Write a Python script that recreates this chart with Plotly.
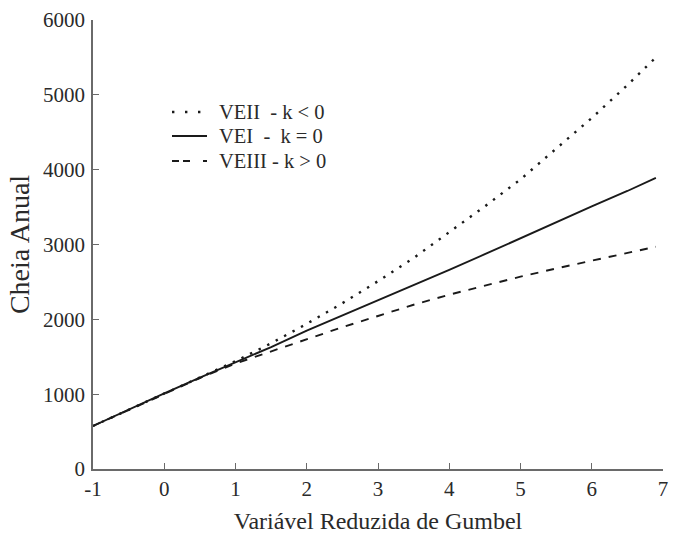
import plotly.graph_objects as go

# Gumbel reduced variate (x) and annual flood values
x_vals = [-1, -0.5, 0, 0.5, 1, 1.5, 2, 2.5, 3, 3.5, 4, 4.5, 5, 5.5, 6, 6.5, 6.9]
veii = [575, 790, 1005, 1220, 1440, 1680, 1940, 2215, 2510, 2820, 3160, 3510, 3870, 4280, 4690, 5130, 5500]
vei = [575, 795, 1010, 1220, 1420, 1630, 1850, 2050, 2250, 2450, 2660, 2870, 3085, 3300, 3510, 3715, 3890]
veiii = [575, 790, 1005, 1215, 1410, 1575, 1740, 1895, 2045, 2195, 2330, 2455, 2570, 2680, 2780, 2880, 2970]

names = ["VEII\u00a0\u00a0- k &lt; 0", "VEI\u00a0\u00a0-\u00a0\u00a0k = 0", "VEIII - k &gt; 0"]
x_ticks = [-1, 0, 1, 2, 3, 4, 5, 6, 7]
y_ticks = [0, 1000, 2000, 3000, 4000, 5000, 6000]

FONT = "Liberation Serif, Times New Roman, serif"
TXT = "#2a2a2a"
AX = "#6a6a6a"
LINE = "#1a1a1a"

W, H = 682, 535
ML, MR, MT, MB = 93, 19, 20, 66
PW, PH = W - ML - MR, H - MT - MB


def px_x(p):
    return (p - ML) / PW


def px_y(p):
    return (H - MB - p) / PH


styles = [
    dict(color=LINE, width=2.4, dash="2.4px,7.2px"),
    dict(color=LINE, width=1.9),
    dict(color=LINE, width=1.9, dash="8px,8px"),
]
sample_styles = [
    dict(color=LINE, width=2.4, dash="2.4px,10.6px"),
    dict(color=LINE, width=1.9),
    dict(color=LINE, width=1.9, dash="7px,4px,7px,13px"),
]

fig = go.Figure()
for yv, nm, st in zip([veii, vei, veiii], names, styles):
    fig.add_trace(go.Scatter(x=x_vals, y=yv, mode="lines", name=nm, line=st, showlegend=False))

# manual legend (samples + labels)
row_y = [112, 136, 161]
shapes = []
annotations = []
for ry, nm, st in zip(row_y, names, sample_styles):
    shapes.append(dict(type="line", xref="paper", yref="paper",
                       x0=px_x(172), x1=px_x(207), y0=px_y(ry), y1=px_y(ry), line=st))
    annotations.append(dict(xref="paper", yref="paper", x=px_x(217), y=px_y(ry),
                            xanchor="left", yanchor="middle", showarrow=False, text=nm,
                            font=dict(size=20.5, family=FONT, color=TXT)))

fig.update_layout(
    width=W, height=H,
    margin=dict(l=ML, r=MR, t=MT, b=MB),
    paper_bgcolor="white", plot_bgcolor="white",
    font=dict(family=FONT, color=TXT, size=21),
    showlegend=False,
    shapes=shapes,
    annotations=annotations,
    xaxis=dict(range=[-1, 7], tickvals=x_ticks, ticktext=[str(v) for v in x_ticks],
               automargin=False,
               showgrid=False, zeroline=False, showline=True, linecolor=AX, linewidth=1.5,
               ticks="inside", ticklen=6, tickcolor=AX, tickwidth=1.2,
               tickfont=dict(size=21, family=FONT, color=TXT),
               title=dict(text="Variável Reduzida de Gumbel", font=dict(size=24, family=FONT, color=TXT), standoff=12)),
    yaxis=dict(range=[0, 6000], tickvals=y_ticks, ticktext=[str(v) for v in y_ticks],
               automargin=False, ticklabelstandoff=2,
               showgrid=False, zeroline=False, showline=True, linecolor=AX, linewidth=1.5,
               ticks="inside", ticklen=6, tickcolor=AX, tickwidth=1.2,
               tickfont=dict(size=21, family=FONT, color=TXT),
               title=dict(text="Cheia Anual", font=dict(size=28, family=FONT, color=TXT), standoff=5)),
)

fig.write_html("out.html")
